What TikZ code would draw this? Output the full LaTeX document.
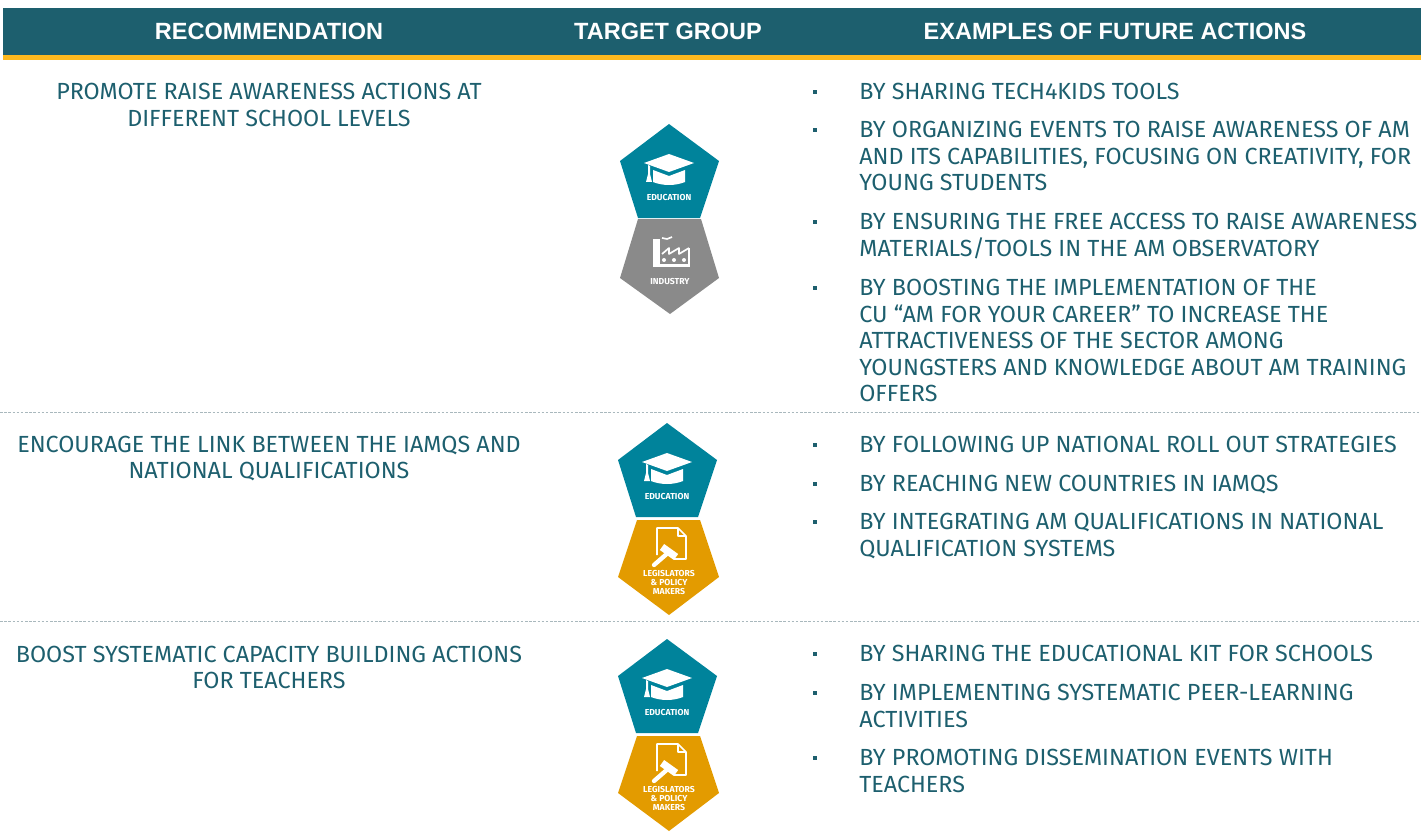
\documentclass[tikz,border=0pt]{standalone}
\usepackage{fontspec}
\setmainfont{Fira Sans}
\newfontfamily\headfont{Liberation Sans}
\definecolor{teal1}{HTML}{1D5F6E}
\definecolor{gold1}{HTML}{FDB91F}
\definecolor{edu1}{HTML}{00839B}
\definecolor{ind1}{HTML}{8A8A8A}
\definecolor{law1}{HTML}{E39B00}
\definecolor{sep1c}{HTML}{A9B8BD}
\tikzset{
  headtxt/.style={text=white,inner sep=0pt,font=\fontsize{14.1}{16}\headfont\bfseries},
  rectxt/.style={text=teal1,inner sep=0pt,align=center,font=\fontsize{14}{15.9}\selectfont},
  acttxt/.style={text=teal1,inner sep=0pt,align=left,anchor=north west,font=\fontsize{14}{15.9}\selectfont},
  bullet1/.style={fill=teal1,inner sep=0pt,minimum size=2.2pt},
  sep1/.style={draw=sep1c,line width=0.6pt,dash pattern=on 1.5pt off 1pt},
  badgetxt/.style={text=white,inner sep=0pt,align=center,font=\fontsize{5.2}{5.4}\selectfont\bfseries},
  edubadge/.pic={
    \fill[edu1] (0,0) -- (50,37) -- (31,94) -- (-31,94) -- (-49,37) -- cycle;
    \fill[white] (0,30) -- (25,39) -- (0,48) -- (-25,39) -- cycle;
    \fill[white] (-16,46) -- (0,52) -- (16,46) -- (16,58) .. controls (6,62) and (-6,62) .. (-16,58) -- cycle;
    \fill[white] (-21,41) -- (-19,42) -- (-19,50) -- (-17,58) -- (-23,58) -- (-21,50) -- cycle;
    \node[badgetxt] (lbl) at (0,73) {EDUCATION};
  },
  indbadge/.pic={
    \fill[ind1] (-32,0) -- (31,0) -- (49,59) -- (0,95) -- (-50,59) -- cycle;
    \fill[white] (-17,20) rectangle (-10,48);
    \fill[white] (-10,45) rectangle (20,48);
    \fill[white] (18,29) rectangle (20,48);
    \draw[white,line width=1pt] (-8,35) -- (-1,29) -- (-1,35) -- (9,29) -- (9,35) -- (19,29);
    \draw[white,line width=1pt] (-8,19) -- (-3,20) -- (2,18);
    \foreach \x in {-6,4,14}{\fill[white] (\x,41) circle(2);}
    \node[badgetxt] (lbl) at (0,62) {INDUSTRY};
  },
  lawbadge/.pic={
    \fill[law1] (-32,0) -- (31,0) -- (50,57) -- (0,95) -- (-51,57) -- cycle;
    \draw[white,line width=1pt] (-12,35) -- (-12,8) -- (9,8) -- (17,16) -- (17,39) -- (5,39);
    \draw[white,line width=0.8pt] (9,8) -- (9,16) -- (17,16);
    \draw[white,line width=2.6pt,line cap=round] (-15,45) -- (0,32);
    \draw[white,line width=4.4pt] (-7,27) -- (7,37);
    \node[badgetxt] (lbl) at (0,62) {LEGISLATORS\\\&\ POLICY\\MAKERS};
  }
}
\begin{document}
\begin{tikzpicture}[x=0.6pt,y=-0.6pt,line join=round]
\useasboundingbox (0,0) rectangle (1421,840);
% header band
\fill[teal1] (3,8) rectangle (1421,55);
\fill[gold1] (3,55) rectangle (1421,60);
\node[headtxt] (hrec) at (269,31.5) {RECOMMENDATION};
\node[headtxt] (htar) at (668,31.5) {TARGET GROUP};
\node[headtxt] (hact) at (1115,31.5) {EXAMPLES OF FUTURE ACTIONS};
% row separators
\draw[sep1] (0,412) -- (1421,412);
\draw[sep1] (0,621) -- (1421,621);
% left column
\node[rectxt] (rec1) at (269,105) {PROMOTE RAISE AWARENESS ACTIONS AT\\DIFFERENT SCHOOL LEVELS};
\node[rectxt] (rec2) at (269,458.7) {ENCOURAGE THE LINK BETWEEN THE IAMQS AND\\NATIONAL QUALIFICATIONS};
\node[rectxt] (rec3) at (269,667.5) {BOOST SYSTEMATIC CAPACITY BUILDING ACTIONS\\FOR TEACHERS};
% badges
\pic (eduA) at (669,124) {edubadge};
\pic (indA) at (670,219) {indbadge};
\pic (eduB) at (667,423) {edubadge};
\pic (lawB) at (669,520) {lawbadge};
\pic (eduC) at (667,639) {edubadge};
\pic (lawC) at (669,736) {lawbadge};
% right column
\foreach \y/\l [count=\i] in {
  92/{BY SHARING TECH4KIDS TOOLS},
  130/{BY ORGANIZING EVENTS TO RAISE AWARENESS OF AM\\AND ITS CAPABILITIES, FOCUSING ON CREATIVITY, FOR\\YOUNG STUDENTS},
  222/{BY ENSURING THE FREE ACCESS TO RAISE AWARENESS\\MATERIALS/TOOLS IN THE AM OBSERVATORY},
  288/{BY BOOSTING THE IMPLEMENTATION OF THE\\CU “AM FOR YOUR CAREER” TO INCREASE THE\\ATTRACTIVENESS OF THE SECTOR AMONG\\YOUNGSTERS AND KNOWLEDGE ABOUT AM TRAINING\\OFFERS},
  445/{BY FOLLOWING UP NATIONAL ROLL OUT STRATEGIES},
  484/{BY REACHING NEW COUNTRIES IN IAMQS},
  522/{BY INTEGRATING AM QUALIFICATIONS IN NATIONAL\\QUALIFICATION SYSTEMS},
  654/{BY SHARING THE EDUCATIONAL KIT FOR SCHOOLS},
  693/{BY IMPLEMENTING SYSTEMATIC PEER-LEARNING\\ACTIVITIES},
  758/{BY PROMOTING DISSEMINATION EVENTS WITH\\TEACHERS}}{
  \node[bullet1] (bul\i) at (815,\y) {};
  \node[acttxt] (act\i) at (859,\y-9) {\l};
}
\end{tikzpicture}
\end{document}
